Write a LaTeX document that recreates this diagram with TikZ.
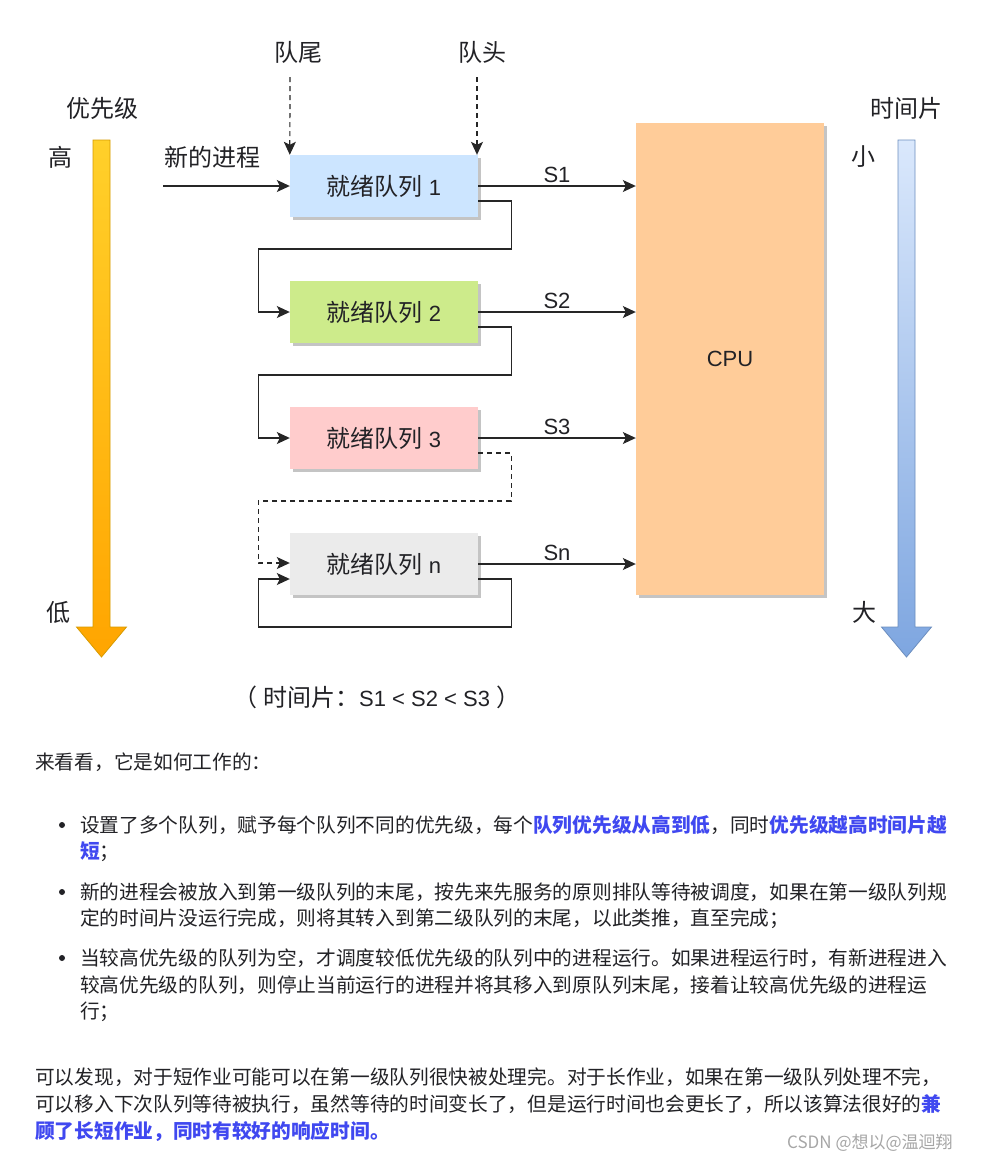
\documentclass[tikz,border=0pt]{standalone}
\usepackage{fontspec}
\setmainfont{Liberation Sans}
\newfontfamily\cjk{Noto Sans CJK SC}
\usepackage{xcolor}
\usepackage{tikz}
\usetikzlibrary{arrows.meta,calc,shadows}
\definecolor{QueueA}{HTML}{CCE5FF}
\definecolor{QueueB}{HTML}{CDEB8B}
\definecolor{QueueC}{HTML}{FFCCCC}
\definecolor{QueueN}{HTML}{EBEBEB}
\definecolor{Cpu}{HTML}{FFCC99}
\definecolor{Shade}{HTML}{C4C4C4}
\definecolor{Body}{RGB}{34,34,38}
\definecolor{Link}{RGB}{64,72,240}
\definecolor{PrioTop}{HTML}{FFD02A}
\definecolor{PrioBot}{HTML}{FFA500}
\definecolor{PrioLine}{HTML}{D79B00}
\definecolor{SliceTop}{HTML}{DAE8FC}
\definecolor{SliceBot}{HTML}{7EA6E0}
\definecolor{SliceLine}{HTML}{6C8EBF}
\newcommand{\zh}[1]{{\cjk\fontsize{24}{28}\selectfont #1}}
\newcommand{\hl}[1]{\textcolor{Link}{\bfseries #1}}
\newcommand{\BigArrow}[4]{% xcenter topcolor bottomcolor stroke
\shade[top color=#2,bottom color=#3,draw=#4,line width=0.8pt]
  (#1-8.5,140) -- (#1+8.5,140) -- (#1+8.5,627) -- (#1+25,627)
  -- (#1,657) -- (#1-25,627) -- (#1-8.5,627) -- cycle;
}
\begin{document}
\begin{tikzpicture}[x=1pt,y=-1pt,
  font=\fontsize{22}{26}\selectfont,
  queue/.style={minimum width=188pt,minimum height=62pt,inner sep=0pt,text=Body,
    drop shadow={shadow xshift=3pt,shadow yshift=-3pt,fill=Shade,opacity=1}},
  cpubox/.style={queue,minimum height=472pt,fill=Cpu},
  flow/.style={-{Stealth[length=13pt,width=12pt,inset=3pt]},line width=1.2pt,draw=black!85},
  dashy/.style={dash pattern=on 5pt off 4pt},
  tag/.style={text=Body,inner sep=0pt},
  para/.style={anchor=west,inner sep=0pt,text=Body,font=\cjk\fontsize{19.7}{27}\selectfont}]
\useasboundingbox[fill=white] (0,0) rectangle (993,1163);
% priority and time slice scales
\BigArrow{101.5}{PrioTop}{PrioBot}{PrioLine}
\BigArrow{906.5}{SliceTop}{SliceBot}{SliceLine}
\node[tag] (prio) at (102,108) {\zh{优先级}};
\node[tag] (high) at (60,157) {\zh{高}};
\node[tag] (low) at (58,612) {\zh{低}};
\node[tag] (slice) at (906,108) {\zh{时间片}};
\node[tag] (small) at (863,157) {\zh{小}};
\node[tag] (big) at (864,612) {\zh{大}};
% ready queues
\node[queue,fill=QueueA] (q1) at (384,186) {\zh{就绪队列} 1};
\node[queue,fill=QueueB] (q2) at (384,312) {\zh{就绪队列} 2};
\node[queue,fill=QueueC] (q3) at (384,438) {\zh{就绪队列} 3};
\node[queue,fill=QueueN] (qn) at (384,564) {\zh{就绪队列} n};
\node[cpubox] (cpu) at (730,359) {CPU};
% tail / head markers
\node[tag] (tail) at (298,52) {\zh{队尾}};
\node[tag] (head) at (482,52) {\zh{队头}};
\coordinate (tailin) at (290,77);
\coordinate (headin) at (477,77);
\draw[flow,dashy] (tailin) -- (q1.north west);
\draw[flow,dashy] (headin) -- (q1.north west -| headin);
\node[tag] (newproc) at (212,157) {\zh{新的进程}};
\coordinate (newin) at (163,186);
\draw[flow] (newin) -- (q1.west);
% to the CPU
\draw[flow] (q1.east) -- (q1.east -| cpu.west) node[midway,above=3pt,tag] (s1) {S1};
\draw[flow] (q2.east) -- (q2.east -| cpu.west) node[midway,above=3pt,tag] (s2) {S2};
\draw[flow] (q3.east) -- (q3.east -| cpu.west) node[midway,above=3pt,tag] (s3) {S3};
\draw[flow] (qn.east) -- (qn.east -| cpu.west) node[midway,above=3pt,tag] (sn) {Sn};
% demote to the next queue
\draw[flow] ($(q1.east)+(0,15)$) -- ++(33,0) -- ++(0,48) -- ++(-253,0) |- (q2.west);
\draw[flow] ($(q2.east)+(0,15)$) -- ++(33,0) -- ++(0,48) -- ++(-253,0) |- (q3.west);
\draw[flow,dashy] ($(q3.east)+(0,15)$) -- ++(33,0) -- ++(0,48) -- ++(-253,0) |- ($(qn.west)+(0,-1)$);
\draw[flow] ($(qn.east)+(0,15)$) -- ++(33,0) -- ++(0,48) -- ++(-253,0) |- ($(qn.west)+(0,15)$);
\node[tag] (order) at (377,697) {\zh{（ 时间片：}S1 < S2 < S3 \zh{）}};
% text below
\node[para] (intro) at (35,762) {来看看，它是如何工作的：};
\foreach \y in {825,892,958} \fill[Body] (62,\y) circle (3pt);
\node[para] (b1a) at (80,825) {设置了多个队列，赋予每个队列不同的优先级，每个\hl{队列优先级从高到低}，同时\hl{优先级越高时间片越}};
\node[para] (b1b) at (80,852) {\hl{短}；};
\node[para] (b2a) at (80,892) {新的进程会被放入到第一级队列的末尾，按先来先服务的原则排队等待被调度，如果在第一级队列规};
\node[para] (b2b) at (80,919) {定的时间片没运行完成，则将其转入到第二级队列的末尾，以此类推，直至完成；};
\node[para] (b3a) at (80,958) {当较高优先级的队列为空，才调度较低优先级的队列中的进程运行。如果进程运行时，有新进程进入};
\node[para] (b3b) at (80,985) {较高优先级的队列，则停止当前运行的进程并将其移入到原队列末尾，接着让较高优先级的进程运};
\node[para] (b3c) at (80,1012) {行；};
\node[para] (p1) at (35,1077) {可以发现，对于短作业可能可以在第一级队列很快被处理完。对于长作业，如果在第一级队列处理不完，};
\node[para] (p2) at (35,1104) {可以移入下次队列等待被执行，虽然等待的时间变长了，但是运行时间也会更长了，所以该算法很好的\hl{兼}};
\node[para] (p3) at (35,1131) {\hl{顾了长短作业，同时有较好的响应时间。}};
\node[para,text=gray!70,font=\cjk\fontsize{17}{20}\selectfont] (mark) at (787,1143) {CSDN @想以@温迴翔};
\end{tikzpicture}
\end{document}
